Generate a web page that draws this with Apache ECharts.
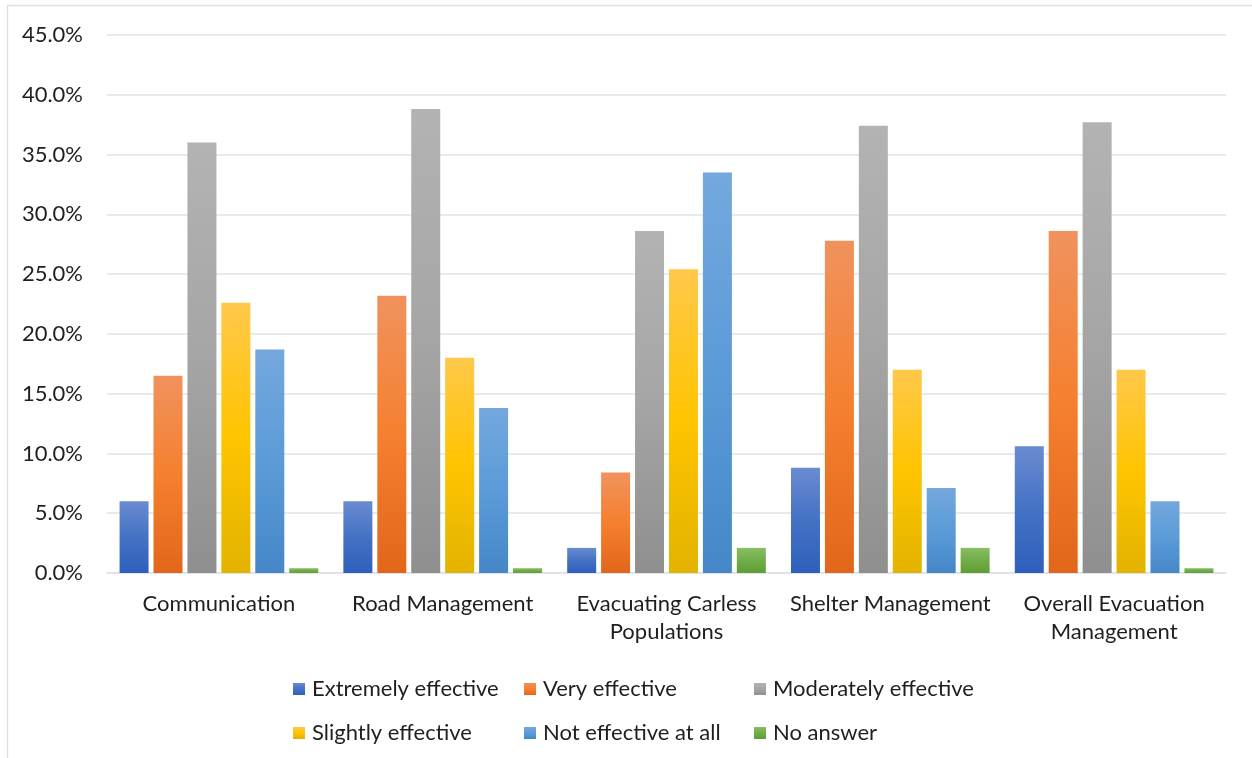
<!DOCTYPE html>
<html>
<head>
<meta charset="utf-8">
<style>
  html, body { margin: 0; padding: 0; background: #ffffff; }
  #chart { width: 1252px; height: 758px; }
</style>
<script src="https://cdn.jsdelivr.net/npm/echarts@6/dist/echarts.min.js"></script>
</head>
<body>
<div id="chart"></div>
<script>
// Survey responses on evacuation effectiveness, share of respondents (%)
const categories = [
  'Communication',
  'Road Management',
  'Evacuating Carless\nPopulations',
  'Shelter Management',
  'Overall Evacuation\nManagement'
];
const seriesNames = [
  'Extremely effective',
  'Very effective',
  'Moderately effective',
  'Slightly effective',
  'Not effective at all',
  'No answer'
];
const extremelyEffective = [6.0, 6.0, 2.1, 8.8, 10.6];
const veryEffective      = [16.5, 23.2, 8.4, 27.8, 28.6];
const moderatelyEffective = [36.0, 38.8, 28.6, 37.4, 37.7];
const slightlyEffective  = [22.6, 18.0, 25.4, 17.0, 17.0];
const notEffective       = [18.7, 13.8, 33.5, 7.1, 6.0];
const noAnswer           = [0.4, 0.4, 2.1, 2.1, 0.4];
const yTicks = { min: 0, max: 45, interval: 5 };

const seriesValues = [
  extremelyEffective, veryEffective, moderatelyEffective,
  slightlyEffective, notEffective, noAnswer
];

// top / middle / bottom shades for each series
const palette = [
  ['#6a8bd1', '#4472c4', '#2e5fbb'],
  ['#f0925e', '#f5802f', '#e2661a'],
  ['#b3b3b3', '#a5a5a5', '#8f8f8f'],
  ['#ffc84a', '#ffc400', '#e2b300'],
  ['#74a8dd', '#5b9bd8', '#4587c7'],
  ['#89bd62', '#70ad47', '#5f9e33']
];

function grad(c) {
  return new echarts.graphic.LinearGradient(0, 0, 0, 1, [
    { offset: 0, color: c[0] },
    { offset: 0.5, color: c[1] },
    { offset: 1, color: c[2] }
  ]);
}

const font = 'Lato, "Open Sans", sans-serif';
const textColor = '#1f1f1f';

const series = seriesNames.map((name, i) => ({
  name: name,
  type: 'bar',
  data: seriesValues[i],
  barWidth: 29,
  barGap: '17%',
  itemStyle: { color: grad(palette[i]) },
  emphasis: { disabled: true }
}));

// legend entries laid out in a 3 x 2 block
const legendLeft = [288, 519, 749];
const legendTop = [673, 717];
const legends = seriesNames.map((name, i) => ({
  data: [name],
  left: legendLeft[i % 3],
  top: legendTop[Math.floor(i / 3)],
  itemWidth: 12,
  itemHeight: 12,
  itemGap: 0,
  icon: 'rect',
  selectedMode: false,
  textStyle: { fontFamily: font, fontSize: 22, color: textColor, padding: [0, 0, 0, 2] }
}));

const chart = echarts.init(document.getElementById('chart'), null, { renderer: 'canvas' });
chart.setOption({
  animation: false,
  backgroundColor: '#ffffff',
  graphic: [{
    type: 'rect',
    shape: { x: 7.5, y: 5.5, width: 1400, height: 900 },
    style: { fill: 'none', stroke: '#dde1e6', lineWidth: 1.5 },
    silent: true
  }],
  grid: { left: 107, right: 26, top: 35, bottom: 185, containLabel: false },
  legend: legends,
  xAxis: {
    type: 'category',
    data: categories,
    axisLine: { show: true, lineStyle: { color: '#dfe2e7', width: 1.5 } },
    axisTick: { show: false },
    axisLabel: {
      interval: 0,
      margin: 17,
      fontFamily: font,
      fontSize: 22,
      lineHeight: 28,
      color: textColor,
      align: 'center'
    }
  },
  yAxis: {
    type: 'value',
    min: yTicks.min,
    max: yTicks.max,
    interval: yTicks.interval,
    axisLine: { show: false },
    axisTick: { show: false },
    splitLine: { lineStyle: { color: '#e1e4e9', width: 1.5 } },
    axisLabel: {
      margin: 24,
      fontFamily: font,
      fontSize: 22,
      color: textColor,
      formatter: v => v.toFixed(1) + '%'
    }
  },
  series: series
});
</script>
</body>
</html>
